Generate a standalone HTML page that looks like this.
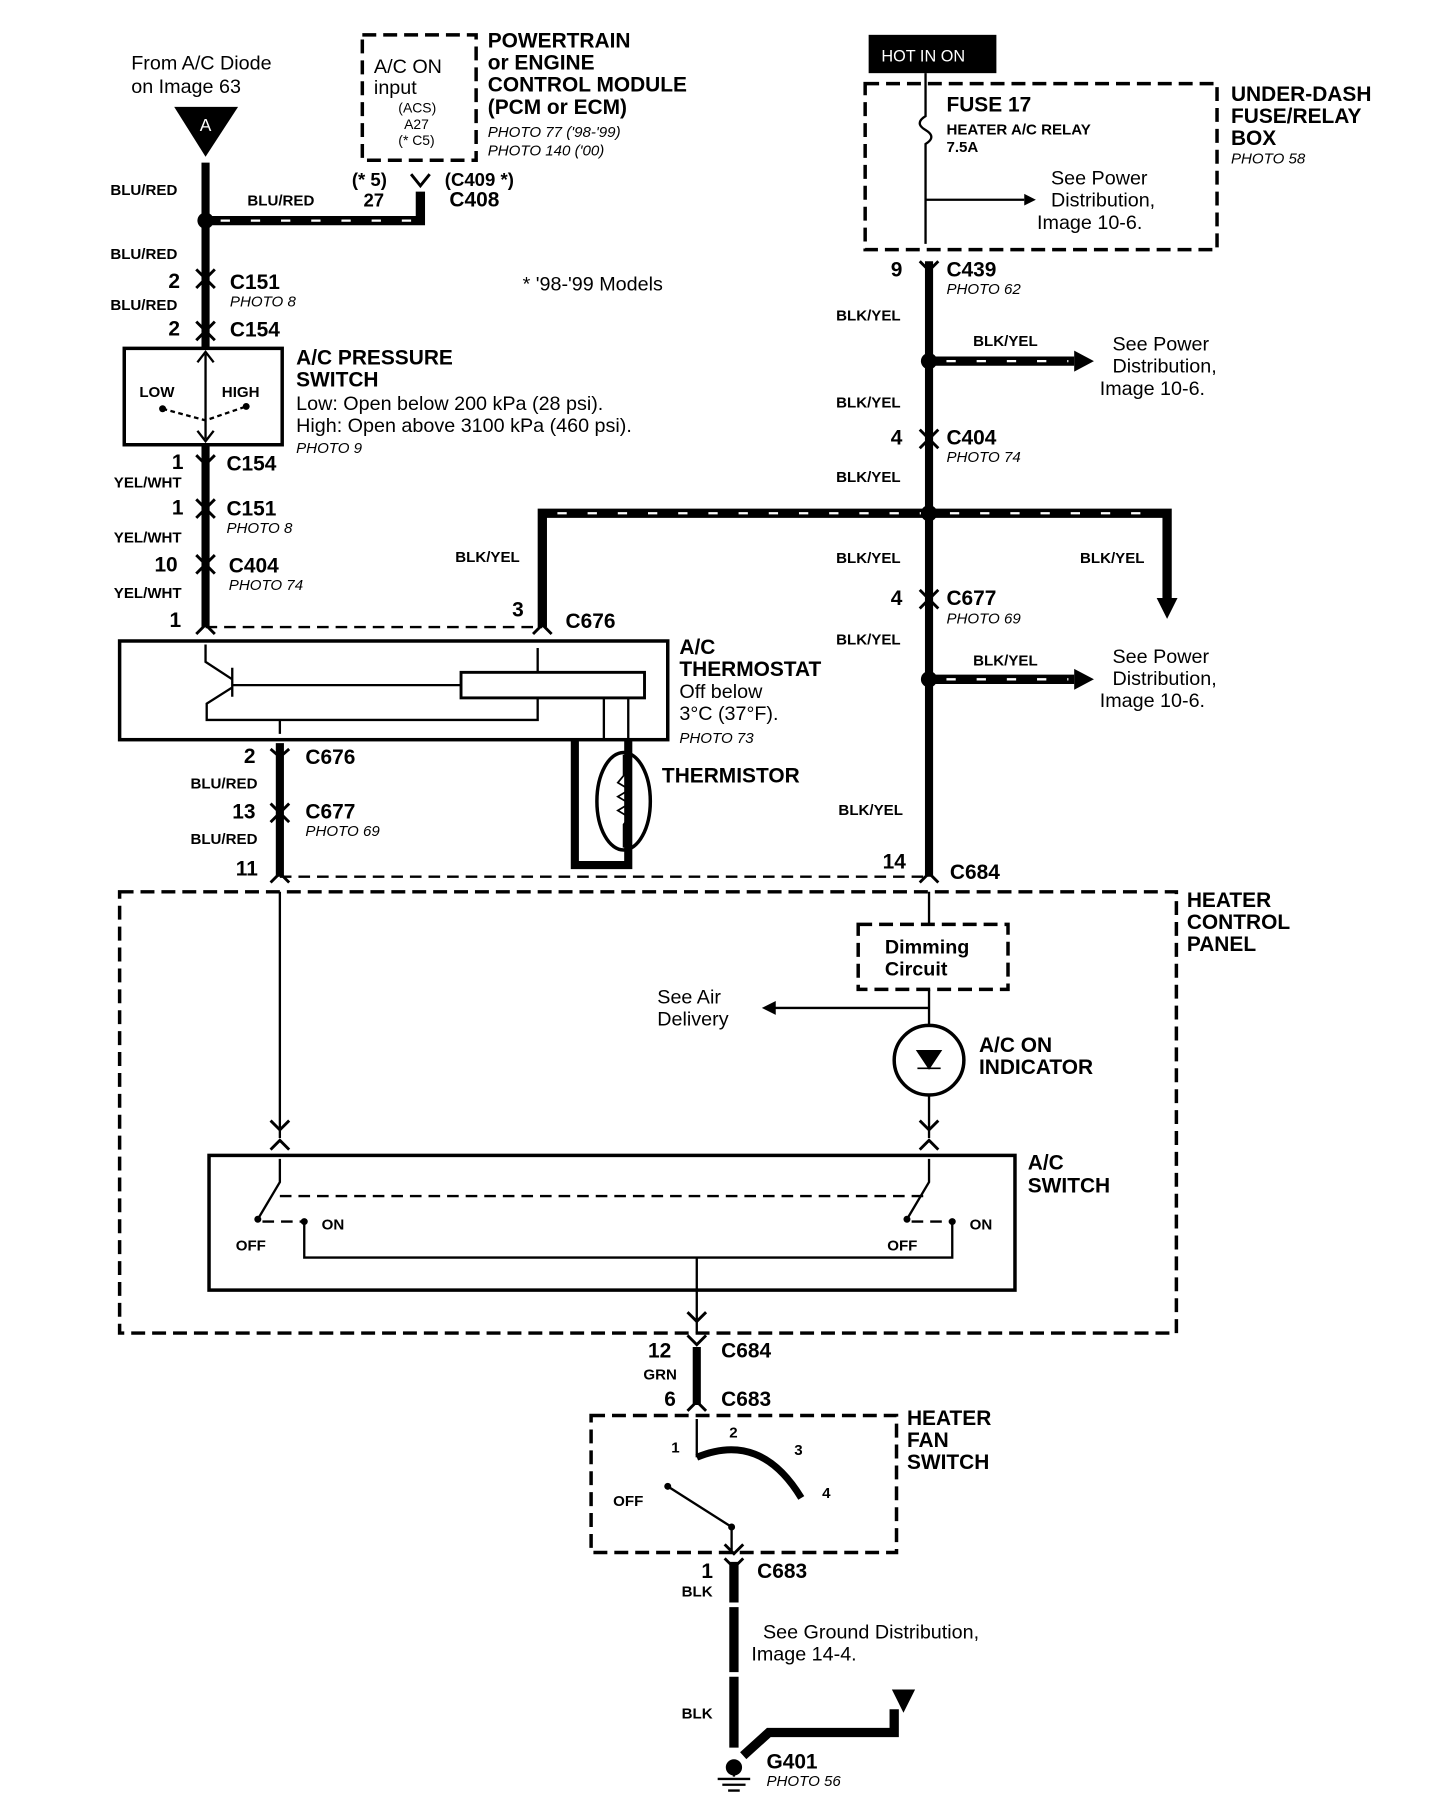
<!DOCTYPE html>
<html><head><meta charset="utf-8"><style>
html,body{margin:0;padding:0;background:#fff;}
svg{display:block;}
text{font-family:"Liberation Sans",sans-serif;fill:#000;}
.b{font-weight:bold;}
.s{font-size:13px;font-weight:bold;}
.i{font-style:italic;font-size:13px;}
.t{font-size:17px;}
.h{font-size:18px;font-weight:bold;}
</style></head><body>
<svg width="1440" height="1808" viewBox="0 0 1240 1557" preserveAspectRatio="none" xmlns="http://www.w3.org/2000/svg">
<rect width="1240" height="1557" fill="#fff"/>
<g stroke="#000" fill="none">
<path d="M177 140V300M177 383V540" stroke-width="7"/>
<path d="M177 190H362V165" stroke-width="8"/>
<path d="M190 190H355" stroke="#fff" stroke-width="2" stroke-dasharray="8 18"/>
<rect x="312" y="30" width="98" height="108" stroke-width="3" stroke-dasharray="12 6"/>
<rect x="107" y="300" width="136" height="83" stroke-width="3"/>
<path d="M177 305V378M170 312L177 303L184 312M170 371L177 380L184 371" stroke-width="2"/>
<path d="M140 352L177 362L212 350" stroke-width="2" stroke-dasharray="4 3"/>
<path d="M177 540H467" stroke-width="2" stroke-dasharray="10 6"/>
<path d="M467 540V442H1005V520" stroke-width="8"/>
<path d="M480 442H995" stroke="#fff" stroke-width="2" stroke-dasharray="8 18"/>
<rect x="103" y="552" width="472" height="85" stroke-width="3"/>
<rect x="397" y="579" width="158" height="22" stroke-width="2.5"/>
<path d="M177 555V570L200 585M200 575V600M200 590H397M200 592L178 606V620H463V601M463 579V558M241 620V632M520 601V637M541 601V637" stroke-width="2"/>
<path d="M495 637V745H541V637" stroke-width="7"/>
<ellipse cx="537" cy="690" rx="23" ry="42" stroke-width="3"/>
<path d="M537 650V668L532 674L542 680L532 686L542 692L532 698L542 704L537 710V730" stroke-width="1.5"/>
<path d="M241 640V755" stroke-width="7"/>
<path d="M241 755H800" stroke-width="2" stroke-dasharray="10 6"/>
<rect x="748" y="30" width="110" height="33" fill="#000" stroke="none"/>
<rect x="745" y="72" width="303" height="143" stroke-width="3" stroke-dasharray="12 6"/>
<path d="M797 63V100Q787 106 797 112Q807 118 797 124V210" stroke-width="2"/>
<path d="M797 172H882" stroke-width="2"/>
<path d="M800 225V755" stroke-width="7"/>
<path d="M800 311H925M800 585H925" stroke-width="8"/>
<path d="M815 311H920M815 585H920" stroke="#fff" stroke-width="2" stroke-dasharray="8 18"/>
<rect x="103" y="768" width="910" height="380" stroke-width="3" stroke-dasharray="12 6"/>
<rect x="739" y="796" width="129" height="56" stroke-width="3" stroke-dasharray="12 6"/>
<path d="M800 768V796M800 852V883M800 943V980M241 768V980M800 868H665" stroke-width="2"/>
<circle cx="800" cy="913" r="30" stroke-width="3"/>
<path d="M790 905H810L800 920ZM790 920H810" fill="#000" stroke-width="1.5"/>
<rect x="180" y="995" width="694" height="116" stroke-width="3"/>
<path d="M241 998V1018L222 1050M800 998V1018L781 1050M262 1053V1083H820V1053M600 1083V1148" stroke-width="2"/>
<path d="M241 1030H800M226 1052H262M785 1052H820" stroke-width="2" stroke-dasharray="10 6"/>
<path d="M600 1160V1210" stroke-width="7"/>
<rect x="509" y="1219" width="263" height="118" stroke-width="3" stroke-dasharray="12 6"/>
<path d="M600 1222V1255" stroke-width="2"/>
<path d="M600 1255Q655 1232 690 1290" stroke-width="6"/>
<path d="M575 1280L630 1315V1335" stroke-width="2"/>
<path d="M632 1345V1380M632 1384V1440M632 1444V1505" stroke-width="8"/>
<path d="M640 1512L662 1492H770V1472" stroke-width="8"/>
<path d="M632 1520V1530M618 1532H646M622 1537H642M627 1542H637" stroke-width="2"/>
</g>
<g fill="#000">
<polygon points="150,92 205,92 177,135"/>
<circle cx="177" cy="190" r="7"/>
<circle cx="800" cy="311" r="7"/><circle cx="800" cy="442" r="7"/><circle cx="800" cy="585" r="7"/>
<polygon points="925,302 942,311 925,320"/><polygon points="925,576 942,585 925,594"/>
<polygon points="996,515 1014,515 1005,533"/>
<polygon points="882,167 892,172 882,177"/>
<polygon points="668,862 656,868 668,874"/>
<polygon points="768,1455 788,1455 778,1475"/>
<circle cx="632" cy="1522" r="7"/>
<circle cx="140" cy="352" r="3"/><circle cx="212" cy="350" r="3"/>
<circle cx="222" cy="1050" r="3"/><circle cx="262" cy="1052" r="3"/><circle cx="781" cy="1050" r="3"/><circle cx="820" cy="1052" r="3"/>
<circle cx="575" cy="1280" r="3"/><circle cx="630" cy="1315" r="3"/>
</g>
<g stroke="#000" stroke-width="2.5" fill="none">
<path d="M169 232L177 240L185 232M169 248L177 240L185 248"/>
<path d="M169 277L177 285L185 277M169 293L177 285L185 293"/>
<path d="M169 392L177 400L185 392M169 430L177 438L185 430M169 446L177 438L185 446M169 478L177 486L185 478M169 494L177 486L185 494M169 546L177 538L185 546"/>
<path d="M459 546L467 538L475 546M354 150L362 160L370 150"/>
<path d="M233 645L241 652L249 645M233 692L241 700L249 692M233 708L241 700L249 708M233 760L241 752L249 760"/>
<path d="M792 225L800 233L808 225M792 370L800 378L808 370M792 386L800 378L808 386M792 508L800 516L808 508M792 524L800 516L808 524M792 760L800 752L808 760"/>
<path d="M233 965L241 973L249 965M233 990L241 982L249 990M792 965L800 973L808 965M792 990L800 982L808 990"/>
<path d="M592 1130L600 1138L608 1130M592 1150L600 1158L608 1150M592 1215L600 1207L608 1215M624 1342L632 1350L640 1342M624 1330L632 1338L640 1330"/>
</g>
<text x="113" y="60" class="t">From A/C Diode</text>
<text x="113" y="80" class="t">on Image 63</text>
<text x="172" y="113" style="fill:#fff;font-size:15px">A</text>
<text x="95" y="168" class="s">BLU/RED</text>
<text x="213" y="177" class="s">BLU/RED</text>
<text x="303" y="160" class="h" style="font-size:16px">(* 5)</text>
<text x="313" y="178" class="h" style="font-size:16px">27</text>
<text x="383" y="160" class="h" style="font-size:16px">(C409 *)</text>
<text x="387" y="178" class="h">C408</text>
<text x="322" y="63" class="t">A/C ON</text>
<text x="322" y="81" class="t">input</text>
<text x="343" y="97" style="font-size:12px">(ACS)</text>
<text x="348" y="111" style="font-size:12px">A27</text>
<text x="343" y="125" style="font-size:12px">(* C5)</text>
<text x="420" y="41" class="h">POWERTRAIN</text>
<text x="420" y="60" class="h">or ENGINE</text>
<text x="420" y="79" class="h">CONTROL MODULE</text>
<text x="420" y="98" class="h">(PCM or ECM)</text>
<text x="420" y="118" class="i">PHOTO 77 ('98-'99)</text>
<text x="420" y="134" class="i">PHOTO 140 ('00)</text>
<text x="450" y="250" class="t">* '98-'99 Models</text>
<text x="95" y="223" class="s">BLU/RED</text>
<text x="145" y="248" class="h">2</text><text x="198" y="249" class="h">C151</text><text x="198" y="264" class="i">PHOTO 8</text>
<text x="95" y="267" class="s">BLU/RED</text>
<text x="145" y="289" class="h">2</text><text x="198" y="290" class="h">C154</text>
<text x="120" y="342" class="s">LOW</text><text x="191" y="342" class="s">HIGH</text>
<text x="255" y="314" class="h">A/C PRESSURE</text>
<text x="255" y="333" class="h">SWITCH</text>
<text x="255" y="353" class="t">Low: Open below 200 kPa (28 psi).</text>
<text x="255" y="372" class="t">High: Open above 3100 kPa (460 psi).</text>
<text x="255" y="390" class="i">PHOTO 9</text>
<text x="148" y="404" class="h">1</text><text x="195" y="405" class="h">C154</text>
<text x="98" y="420" class="s">YEL/WHT</text>
<text x="148" y="443" class="h">1</text><text x="195" y="444" class="h">C151</text><text x="195" y="459" class="i">PHOTO 8</text>
<text x="98" y="467" class="s">YEL/WHT</text>
<text x="133" y="492" class="h">10</text><text x="197" y="493" class="h">C404</text><text x="197" y="508" class="i">PHOTO 74</text>
<text x="98" y="515" class="s">YEL/WHT</text>
<text x="146" y="540" class="h">1</text>
<text x="392" y="484" class="s">BLK/YEL</text>
<text x="441" y="531" class="h">3</text><text x="487" y="541" class="h">C676</text>
<text x="585" y="563" class="h">A/C</text>
<text x="585" y="582" class="h">THERMOSTAT</text>
<text x="585" y="601" class="t">Off below</text>
<text x="585" y="620" class="t">3°C (37°F).</text>
<text x="585" y="640" class="i">PHOTO 73</text>
<text x="570" y="674" class="h">THERMISTOR</text>
<text x="210" y="657" class="h">2</text><text x="263" y="658" class="h">C676</text>
<text x="164" y="679" class="s">BLU/RED</text>
<text x="200" y="705" class="h">13</text><text x="263" y="705" class="h">C677</text><text x="263" y="720" class="i">PHOTO 69</text>
<text x="164" y="727" class="s">BLU/RED</text>
<text x="203" y="754" class="h">11</text>
<text x="759" y="53" style="fill:#fff;font-size:14px">HOT IN ON</text>
<text x="815" y="96" class="h">FUSE 17</text>
<text x="815" y="116" class="s">HEATER A/C RELAY</text>
<text x="815" y="131" class="s">7.5A</text>
<text x="905" y="159" class="t">See Power</text>
<text x="905" y="178" class="t">Distribution,</text>
<text x="893" y="197" class="t">Image 10-6.</text>
<text x="1060" y="87" class="h">UNDER-DASH</text>
<text x="1060" y="106" class="h">FUSE/RELAY</text>
<text x="1060" y="125" class="h">BOX</text>
<text x="1060" y="141" class="i">PHOTO 58</text>
<text x="767" y="238" class="h">9</text><text x="815" y="238" class="h">C439</text><text x="815" y="253" class="i">PHOTO 62</text>
<text x="720" y="276" class="s">BLK/YEL</text>
<text x="838" y="298" class="s">BLK/YEL</text>
<text x="958" y="302" class="t">See Power</text><text x="958" y="321" class="t">Distribution,</text><text x="947" y="340" class="t">Image 10-6.</text>
<text x="720" y="351" class="s">BLK/YEL</text>
<text x="767" y="383" class="h">4</text><text x="815" y="383" class="h">C404</text><text x="815" y="398" class="i">PHOTO 74</text>
<text x="720" y="415" class="s">BLK/YEL</text>
<text x="720" y="485" class="s">BLK/YEL</text>
<text x="930" y="485" class="s">BLK/YEL</text>
<text x="767" y="521" class="h">4</text><text x="815" y="521" class="h">C677</text><text x="815" y="537" class="i">PHOTO 69</text>
<text x="720" y="555" class="s">BLK/YEL</text>
<text x="838" y="573" class="s">BLK/YEL</text>
<text x="958" y="571" class="t">See Power</text><text x="958" y="590" class="t">Distribution,</text><text x="947" y="609" class="t">Image 10-6.</text>
<text x="722" y="702" class="s">BLK/YEL</text>
<text x="760" y="748" class="h">14</text><text x="818" y="757" class="h">C684</text>
<text x="1022" y="781" class="h">HEATER</text><text x="1022" y="800" class="h">CONTROL</text><text x="1022" y="819" class="h">PANEL</text>
<text x="762" y="821" class="h" style="font-size:17px">Dimming</text><text x="762" y="840" class="h" style="font-size:17px">Circuit</text>
<text x="566" y="864" class="t">See Air</text><text x="566" y="883" class="t">Delivery</text>
<text x="843" y="906" class="h">A/C ON</text><text x="843" y="925" class="h">INDICATOR</text>
<text x="885" y="1007" class="h">A/C</text><text x="885" y="1027" class="h">SWITCH</text>
<text x="203" y="1077" class="s">OFF</text><text x="277" y="1059" class="s">ON</text>
<text x="764" y="1077" class="s">OFF</text><text x="835" y="1059" class="s">ON</text>
<text x="558" y="1169" class="h">12</text><text x="621" y="1169" class="h">C684</text>
<text x="554" y="1188" class="s">GRN</text>
<text x="572" y="1211" class="h">6</text><text x="621" y="1211" class="h">C683</text>
<text x="781" y="1227" class="h">HEATER</text><text x="781" y="1246" class="h">FAN</text><text x="781" y="1265" class="h">SWITCH</text>
<text x="578" y="1251" class="s">1</text><text x="628" y="1238" class="s">2</text><text x="684" y="1253" class="s">3</text><text x="708" y="1290" class="s">4</text>
<text x="528" y="1297" class="s">OFF</text>
<text x="604" y="1359" class="h">1</text><text x="652" y="1359" class="h">C683</text>
<text x="587" y="1375" class="s">BLK</text>
<text x="657" y="1411" class="t">See Ground Distribution,</text>
<text x="647" y="1430" class="t">Image 14-4.</text>
<text x="587" y="1480" class="s">BLK</text>
<text x="660" y="1523" class="h">G401</text>
<text x="660" y="1538" class="i">PHOTO 56</text>
</svg>
</body></html>
